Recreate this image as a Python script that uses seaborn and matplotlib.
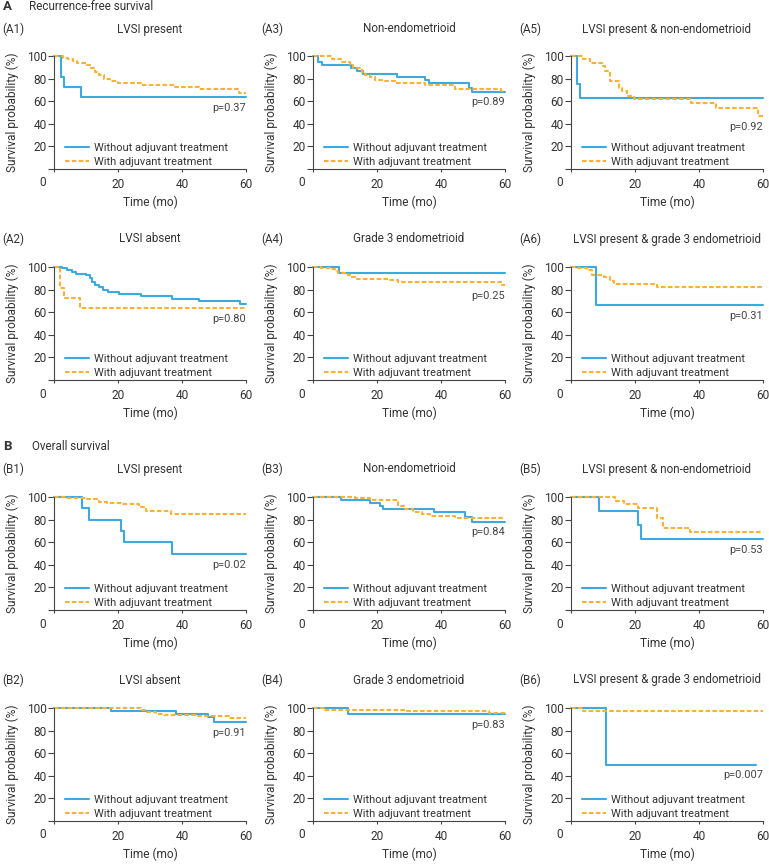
import matplotlib
matplotlib.use("Agg")
import matplotlib.pyplot as plt
import seaborn as sns

# ---- data (time in months, survival in %) ----
# Recurrence-free survival
A1_wo_t = [0, 2.1, 3.1, 8.3, 60]
A1_wo_s = [100, 81.8, 72.7, 63.6, 63.6]
A1_w_t = [0, 2.8, 4.4, 5.9, 7.2, 10.3, 11.6, 12.7, 14.2, 15.5, 17.4, 20, 27.2, 37.1, 45.4, 57.9, 60]
A1_w_s = [100, 98.5, 97, 95.5, 94, 92, 89, 86, 83, 80, 78, 76, 74.5, 72.5, 70.5, 67, 67]

A2_wo_t = [0, 2.6, 4.2, 5.7, 7, 10.1, 11.1, 12, 12.8, 14, 15.2, 17, 20.3, 27.1, 37, 45.2, 58, 60]
A2_wo_s = [100, 99, 97.5, 96, 94, 92.5, 90, 87, 84.5, 82, 80, 78, 76, 74, 72, 70, 67, 67]
A2_w_t = [0, 1.9, 3.1, 8.0, 60]
A2_w_s = [100, 81.8, 72.7, 63.6, 63.6]

A3_wo_t = [0, 1.6, 2.9, 12, 13.6, 15.7, 26.2, 35.1, 36.1, 48.7, 49.7, 60]
A3_wo_s = [100, 95, 92, 89, 87, 84, 81.5, 79, 76, 72, 68, 68]
A3_w_t = [0, 5.8, 8.9, 11.5, 12.6, 15.2, 16.2, 17.8, 19.4, 21.5, 25.7, 35.1, 44.5, 58.6, 60]
A3_w_s = [100, 97, 95, 92, 89, 86, 83, 81, 79, 77.5, 76, 74.5, 71, 69, 69]

A4_wo_t = [0, 8.1, 60]
A4_wo_s = [100, 95, 95]
A4_w_t = [0, 2.6, 5.2, 6.8, 7.9, 11, 12, 13.1, 13.9, 23.6, 26.7, 59.2, 60]
A4_w_s = [100, 99, 98, 96.5, 95, 93, 91.5, 90, 89, 88.5, 86.5, 84, 84]

A5_wo_t = [0, 1.8, 2.8, 60]
A5_wo_s = [100, 75, 62.5, 62.5]
A5_w_t = [0, 3.7, 6, 9.7, 10.7, 12.1, 14.9, 15.9, 17.5, 19.6, 37.5, 45.3, 58.4, 60]
A5_w_s = [100, 97, 94, 91, 87, 78, 72, 69, 65, 62, 58, 54, 47, 47]

A6_wo_t = [0, 7.9, 60]
A6_wo_s = [100, 66.7, 66.7]
A6_w_t = [0, 2.3, 4.9, 6.5, 10.2, 12.3, 13.3, 26.9, 60]
A6_w_s = [100, 99, 97, 93, 91, 88, 85, 82, 82]

# Overall survival
B1_wo_t = [0, 8.9, 11, 20.9, 21.9, 36.8, 60]
B1_wo_s = [100, 90, 80, 70, 60, 50, 50]
B1_w_t = [0, 3.7, 10, 14.1, 16.7, 20.9, 26.6, 28.7, 36.5, 60]
B1_w_s = [100, 99, 98, 96, 95, 94, 91, 87.5, 85, 85]

B2_wo_t = [0, 17.7, 38.1, 48, 50.1, 60]
B2_wo_s = [100, 97.5, 95, 92, 87.5, 87.5]
B2_w_t = [0, 27.1, 28.7, 31.8, 34.4, 45, 54.8, 60]
B2_w_s = [100, 98.5, 96.5, 95, 94, 93, 91, 91]

B3_wo_t = [0, 8.7, 17.8, 20.9, 22, 37.7, 47.6, 49.7, 60]
B3_wo_s = [100, 97.5, 94.5, 92, 89.5, 86.5, 82, 78, 78]
B3_w_t = [0, 13, 17.8, 26.7, 28.3, 31.4, 34, 36.6, 44.5, 60]
B3_w_s = [100, 99, 97, 92, 89, 87, 85, 83.5, 81.5, 81.5]

B4_wo_t = [0, 10.8, 60]
B4_wo_s = [100, 95, 95]
B4_w_t = [0, 3.7, 28.8, 55, 60]
B4_w_s = [100, 98.5, 97.5, 95.5, 95.5]

B5_wo_t = [0, 8.8, 20.9, 21.9, 60]
B5_wo_s = [100, 87.5, 75, 62.5, 62.5]
B5_w_t = [0, 13.9, 16.7, 21, 27, 28.9, 37.1, 60]
B5_w_s = [100, 96.5, 93.5, 90, 81, 73, 69, 69]

B6_wo_t = [0, 11, 57.9]
B6_wo_s = [100, 50, 50]
B6_w_t = [0, 3.9, 60]
B6_w_s = [100, 97.5, 97.5]

panel_ids = ["A1", "A3", "A5", "A2", "A4", "A6", "B1", "B3", "B5", "B2", "B4", "B6"]
panel_titles = ["LVSI present", "Non-endometrioid", "LVSI present & non-endometrioid",
                "LVSI absent", "Grade 3 endometrioid", "LVSI present & grade 3 endometrioid",
                "LVSI present", "Non-endometrioid", "LVSI present & non-endometrioid",
                "LVSI absent", "Grade 3 endometrioid", "LVSI present & grade 3 endometrioid"]
p_values = ["p=0.37", "p=0.89", "p=0.92", "p=0.80", "p=0.25", "p=0.31",
            "p=0.02", "p=0.84", "p=0.53", "p=0.91", "p=0.83", "p=0.007"]
p_ypos = [54, 59, 37, 54, 74, 57, 40, 69, 53, 78, 85, 41]

curves = {
    "A1": (A1_wo_t, A1_wo_s, A1_w_t, A1_w_s), "A2": (A2_wo_t, A2_wo_s, A2_w_t, A2_w_s),
    "A3": (A3_wo_t, A3_wo_s, A3_w_t, A3_w_s), "A4": (A4_wo_t, A4_wo_s, A4_w_t, A4_w_s),
    "A5": (A5_wo_t, A5_wo_s, A5_w_t, A5_w_s), "A6": (A6_wo_t, A6_wo_s, A6_w_t, A6_w_s),
    "B1": (B1_wo_t, B1_wo_s, B1_w_t, B1_w_s), "B2": (B2_wo_t, B2_wo_s, B2_w_t, B2_w_s),
    "B3": (B3_wo_t, B3_wo_s, B3_w_t, B3_w_s), "B4": (B4_wo_t, B4_wo_s, B4_w_t, B4_w_s),
    "B5": (B5_wo_t, B5_wo_s, B5_w_t, B5_w_s), "B6": (B6_wo_t, B6_wo_s, B6_w_t, B6_w_s),
}

BLUE = "#3DA9DE"
ORANGE = "#F9B233"
TXT = "#333333"
FS = 8.6        # ticks and axis labels
FS_TITLE = 8.4  # panel titles
FS_LEG = 7.9    # legend and p-values

sns.set_style("ticks")
plt.rcParams["font.family"] = ["Roboto", "DejaVu Sans"]

W, H = 769, 864
fig = plt.figure(figsize=(W / 100, H / 100), dpi=100)


def fx(px):
    return px / W


def fy(py):
    return 1 - py / H


col_left = [54, 313, 571]
row_top = [56, 267, 497, 708]
row_title = [29, 239, 469, 680]
ax_w, ax_h = 192, 113

fig.text(fx(3), fy(6), "A", fontsize=9.5, fontweight="bold", color=TXT, va="center")
fig.text(fx(29), fy(6), "Recurrence-free survival", fontsize=FS_TITLE, color=TXT, va="center")
fig.text(fx(3), fy(446), "B", fontsize=9.5, fontweight="bold", color=TXT, va="center")
fig.text(fx(32), fy(446), "Overall survival", fontsize=FS_TITLE, color=TXT, va="center")

for i, pid in enumerate(panel_ids):
    r, c = divmod(i, 3)
    left, top = col_left[c], row_top[r]
    ax = fig.add_axes([fx(left), fy(top + ax_h), ax_w / W, ax_h / H])
    wo_t, wo_s, w_t, w_s = curves[pid]
    sns.lineplot(x=wo_t, y=wo_s, ax=ax, color=BLUE, lw=1.5, drawstyle="steps-post",
                 estimator=None, sort=False, label="Without adjuvant treatment", clip_on=False)
    sns.lineplot(x=w_t, y=w_s, ax=ax, color=ORANGE, lw=1.5, drawstyle="steps-post",
                 linestyle=(0, (2.2, 1.1)), estimator=None, sort=False,
                 label="With adjuvant treatment", clip_on=False)
    ax.set_xlim(0, 60)
    ax.set_ylim(0, 100)
    ax.set_xticks([0, 20, 40, 60])
    ax.set_xticklabels(["", "20", "40", "60"])
    ax.set_yticks([0, 20, 40, 60, 80, 100])
    ax.set_yticklabels(["", "20", "40", "60", "80", "100"])
    ax.annotate("0", xy=(0, 0), xycoords="data", xytext=(-11, -14), textcoords="offset pixels",
                ha="center", va="center", fontsize=FS, color=TXT)
    ax.tick_params(axis="y", length=4.3, width=0.8, pad=1, labelsize=FS, colors="#444444",
                   labelcolor=TXT)
    ax.tick_params(axis="x", length=2, width=0.8, pad=4.5, labelsize=FS, colors="#444444",
                   labelcolor=TXT)
    for s in ["top", "right"]:
        ax.spines[s].set_visible(False)
    for s in ["left", "bottom"]:
        ax.spines[s].set_color("#444444")
        ax.spines[s].set_linewidth(0.8)
    ax.set_xlabel("Time (mo)", fontsize=FS, color=TXT)
    ax.set_ylabel("Survival probability (%)", fontsize=FS, color=TXT)
    ax.xaxis.set_label_coords(0.5, -0.235)
    ax.yaxis.set_label_coords(-0.18, 0.5)
    ax.text(60, p_ypos[i], p_values[i], ha="right", va="center", fontsize=FS_LEG, color="#444444")
    ax.legend(loc="lower left", bbox_to_anchor=(0.055, 0.02), frameon=False, fontsize=FS_LEG,
              handlelength=2.2, handletextpad=0.5, labelspacing=0.35, borderpad=0,
              borderaxespad=0, labelcolor=TXT)
    fig.text(fx(left + ax_w / 2), fy(row_title[r]), panel_titles[i], ha="center", va="center",
             fontsize=FS_TITLE, color=TXT)
    fig.text(fx(left - 52), fy(row_title[r]), "(" + pid + ")", ha="left", va="center",
             fontsize=FS_TITLE, color=TXT)

fig.savefig("out.png", dpi=100)
